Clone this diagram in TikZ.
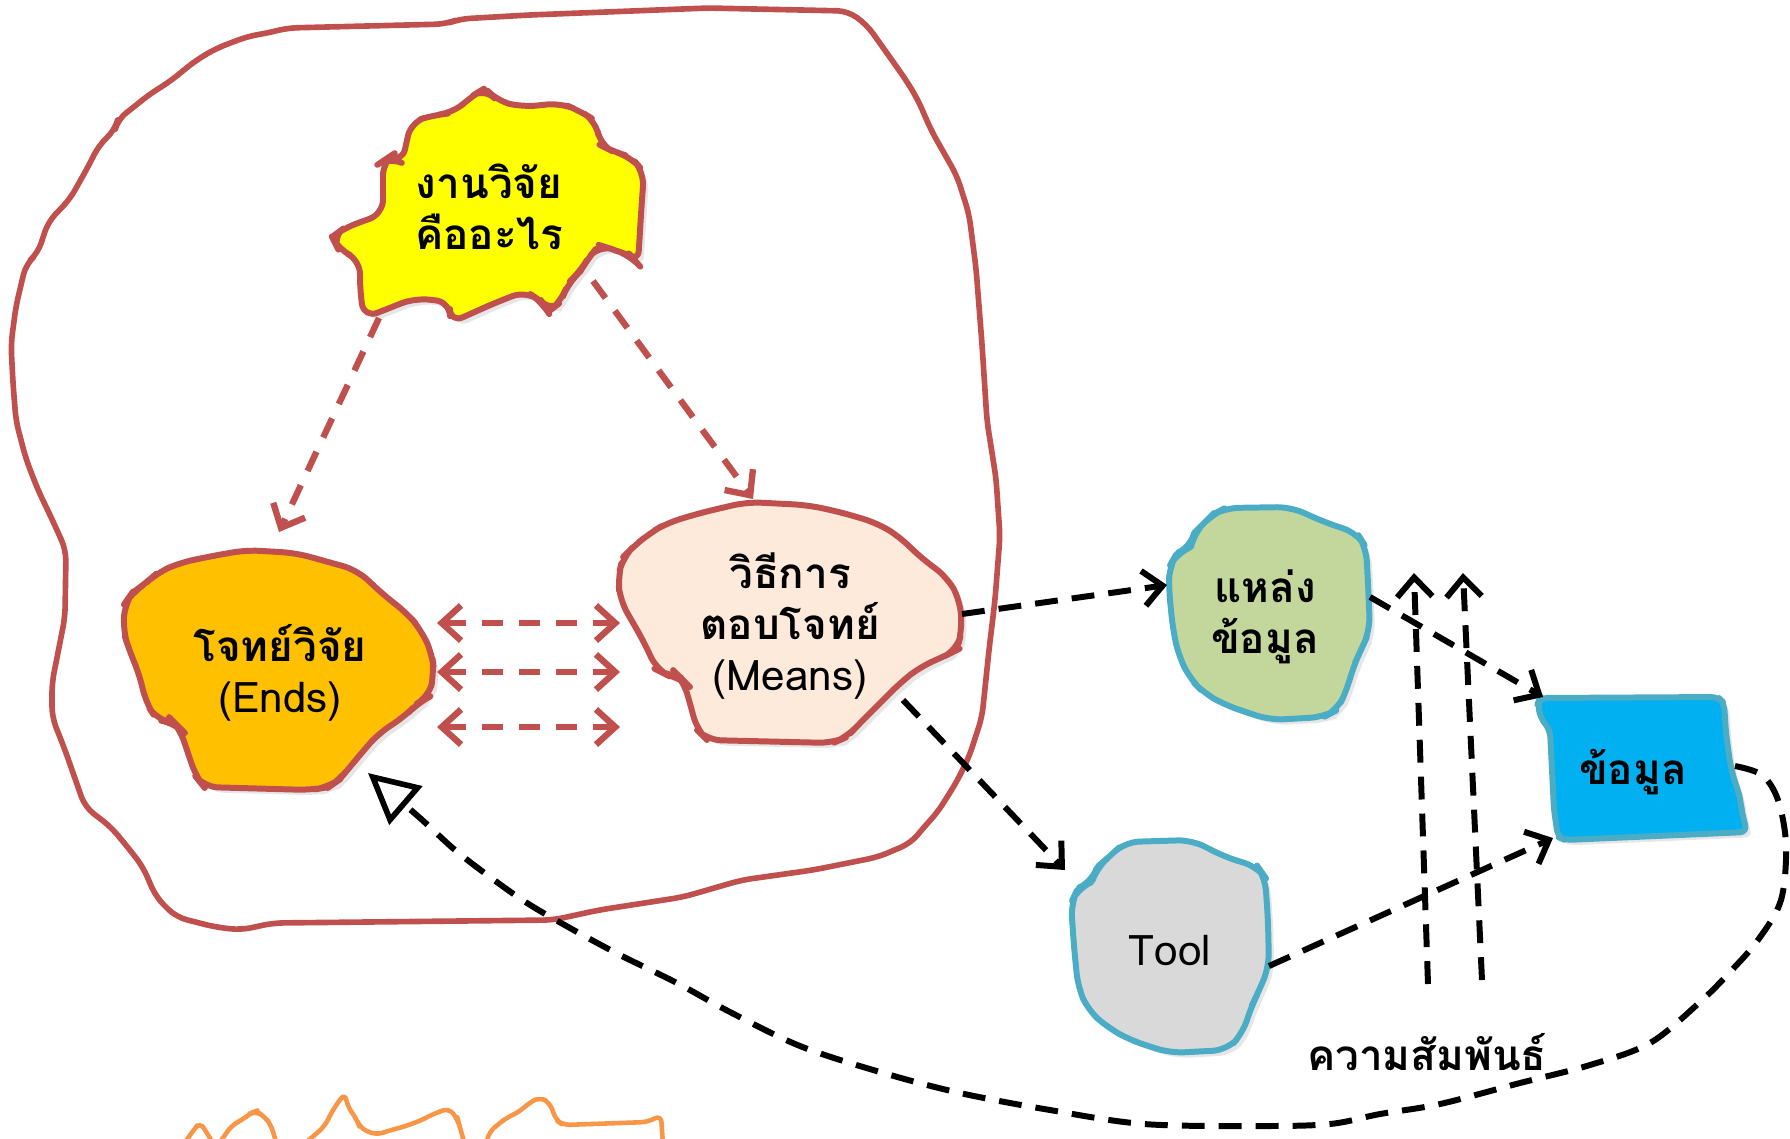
\documentclass[tikz,border=0pt]{standalone}
\usepackage{fontspec}
\newfontfamily\thaifont[Script=Thai]{Loma}
\usetikzlibrary{arrows.meta, shadows}
\definecolor{myred}{RGB}{192,80,77}
\definecolor{myyellow}{RGB}{255,255,0}
\definecolor{myorange}{RGB}{255,192,0}
\definecolor{mypeach}{RGB}{253,234,218}
\definecolor{mygreen}{RGB}{195,214,155}
\definecolor{myblue}{RGB}{0,176,240}
\definecolor{mycyan}{RGB}{75,172,198}
\definecolor{mygray}{RGB}{217,217,217}
\definecolor{lightorange}{RGB}{247,150,70}

\begin{document}
\begin{tikzpicture}[x=0.01cm, y=-0.01cm,
    blob/.style={line width=1.7pt, line join=round, rounded corners=4pt,
        drop shadow={opacity=0.2, shadow xshift=1.5pt, shadow yshift=-1.5pt}},
    lbl/.style={font=\thaifont\bfseries\fontsize{12}{14.5}\selectfont, align=center, inner sep=0pt},
    redarrow/.style={myred, line width=1.8pt, dash pattern=on 6pt off 4.5pt, -{Straight Barb[length=5.5pt,width=10pt]}},
    blkarrow/.style={black, line width=1.7pt, dash pattern=on 6.5pt off 4pt, -{Straight Barb[length=5.5pt,width=10pt]}}]
    \useasboundingbox (0,0) rectangle (1790,1138);

    % outer boundary
    \draw[myred, line width=1.6pt, line join=round, rounded corners=3pt]
        (848,11) -- (867,25) -- (906,80) -- (918,100) -- (931,130) -- (944,153) -- (957,176)
        -- (969,214) -- (976,268) -- (982,344) -- (987,421) -- (996,478) -- (1000,536)
        -- (995,600) -- (989,650) -- (982,717) -- (969,757) -- (956,783) -- (937,813)
        -- (924,827) -- (911,843) -- (878,857) -- (813,870) -- (742,880) -- (683,897)
        -- (599,910) -- (553,920) -- (273,923) -- (241,930) -- (215,927) -- (176,917)
        -- (156,897) -- (143,867) -- (130,850) -- (111,827) -- (85,807) -- (65,750)
        -- (52,717) -- (52,683) -- (65,617) -- (66,550) -- (51,517) -- (38,490)
        -- (26,459) -- (16,421) -- (13,383) -- (11,344) -- (16,306) -- (26,264)
        -- (38,253) -- (48,222) -- (70,199) -- (89,165) -- (99,145) -- (115,130)
        -- (118,119) -- (134,107) -- (147,96) -- (172,80) -- (185,69) -- (198,59)
        -- (217,48) -- (249,36) -- (268,33) -- (287,28) -- (446,24) -- (459,19)
        -- (529,15) -- (708,8) -- cycle;

    % what is research
    \draw[blob, draw=myred, fill=myyellow]
        (485,88) -- (497,101) -- (523,107) -- (561,103) -- (580,111) -- (596,121)
        -- (600,145) -- (612,151) -- (631,157) -- (644,172) -- (641,214) -- (638,264)
        -- (631,256) -- (612,249) -- (599,245) -- (587,260) -- (580,272) -- (568,283)
        -- (561,302) -- (548,312) -- (542,302) -- (526,291) -- (497,302) -- (450,323)
        -- (450,302) -- (415,298) -- (364,318) -- (360,291) -- (360,260) -- (338,249)
        -- (332,237) -- (344,228) -- (383,214) -- (383,161) -- (389,157) -- (402,163)
        -- (411,122) -- (434,115) -- (453,113) -- (472,96) -- cycle;
    \node[lbl] (question) at (489,207) {งานวิจัย\\คืออะไร};

    % ends
    \draw[blob, draw=myred, fill=myorange]
        (246,550) -- (296,553) -- (357,570) -- (386,597) -- (407,613) -- (421,630)
        -- (432,653) -- (434,673) -- (429,697) -- (418,703) -- (404,717) -- (379,733)
        -- (364,750) -- (350,767) -- (339,780) -- (329,787) -- (311,790) -- (204,787)
        -- (196,777) -- (186,747) -- (179,727) -- (175,723) -- (157,720) -- (146,703)
        -- (139,673) -- (129,650) -- (123,630) -- (125,603) -- (132,593) -- (146,583)
        -- (157,573) -- (179,563) -- (207,557) -- cycle;
    \node[lbl] (ends) at (280,673) {โจทย์วิจัย\\{\mdseries (Ends)}};

    % means
    \draw[blob, draw=myred, fill=mypeach]
        (747,502) -- (807,505) -- (840,512) -- (877,523) -- (900,537) -- (920,557)
        -- (947,577) -- (960,600) -- (962,630) -- (957,650) -- (947,655) -- (920,667)
        -- (900,683) -- (880,703) -- (860,723) -- (847,737) -- (833,743) -- (707,740)
        -- (697,730) -- (690,703) -- (683,680) -- (680,677) -- (667,675) -- (657,670)
        -- (643,640) -- (633,623) -- (620,600) -- (618,577) -- (623,557) -- (633,547)
        -- (650,533) -- (667,523) -- (700,513) -- cycle;
    \node[lbl] (means) at (790,626) {วิธีการ\\ตอบโจทย์\\{\mdseries (Means)}};

    % data source
    \draw[blob, draw=mycyan, fill=mygreen]
        (1225,508) -- (1291,507) -- (1324,522) -- (1357,533) -- (1366,547) -- (1368,583)
        -- (1370,630) -- (1361,650) -- (1353,667) -- (1347,690) -- (1337,710) -- (1324,717)
        -- (1270,720) -- (1225,705) -- (1204,693) -- (1191,680) -- (1179,657) -- (1173,630)
        -- (1169,590) -- (1169,567) -- (1177,553) -- (1191,547) -- (1194,533) -- (1204,523)
        -- (1212,515) -- cycle;
    \node[lbl] (source) at (1265,617) {แหล่ง\\ข้อมูล};

    % data
    \draw[blob, draw=mycyan, fill=myblue, rounded corners=2pt]
        (1540,698) -- (1718,697) -- (1724,703) -- (1726,733) -- (1730,763) -- (1735,783)
        -- (1739,793) -- (1743,817) -- (1747,832) -- (1565,840) -- (1558,837) -- (1554,810)
        -- (1550,730) -- (1540,717) -- (1538,703) -- cycle;
    \node[lbl] (data) at (1633,772) {ข้อมูล};

    % tool
    \draw[blob, draw=mycyan, fill=mygray]
        (1125,842) -- (1192,840) -- (1225,857) -- (1258,867) -- (1265,877) -- (1268,920)
        -- (1269,967) -- (1258,993) -- (1251,1007) -- (1243,1033) -- (1227,1050) -- (1170,1053)
        -- (1130,1040) -- (1107,1027) -- (1088,1010) -- (1078,987) -- (1074,947) -- (1071,903)
        -- (1078,888) -- (1092,882) -- (1097,867) -- (1109,857) -- cycle;
    \node[lbl, font=\thaifont\fontsize{12}{14.5}\selectfont] (tool) at (1170,950) {Tool};

    % relation
    \node[lbl] (relation) at (1427,1052) {ความสัมพันธ์};

    % cut-off outline at the bottom
    \draw[lightorange, line width=1.3pt, line join=round, rounded corners=2pt]
        (183,1145) -- (193,1131) -- (200,1122) -- (210,1138) -- (214,1145)
        (218,1145) -- (225,1135) -- (232,1125) -- (242,1120) -- (251,1113) -- (256,1111)
        -- (265,1117) -- (271,1125) -- (277,1145)
        (303,1145) -- (324,1127) -- (334,1108) -- (345,1093) -- (347,1105) -- (357,1120)
        -- (360,1128) -- (376,1135) -- (391,1130) -- (403,1127) -- (422,1120) -- (431,1115)
        -- (449,1108) -- (458,1120) -- (459,1124) -- (465,1145)
        (486,1145) -- (489,1132) -- (506,1118) -- (519,1112) -- (529,1103) -- (540,1097)
        -- (550,1103) -- (556,1120) -- (563,1125) -- (648,1122) -- (661,1115) -- (663,1145);

    % connector ends
    \coordinate (question-sw) at (379,318);
    \coordinate (question-se) at (593,281);
    \coordinate (ends-n) at (279,532);
    \coordinate (means-n) at (753,499);
    \coordinate (means-e) at (962,614);
    \coordinate (means-se) at (903,700);
    \coordinate (source-w) at (1167,585);
    \coordinate (source-e) at (1370,597);
    \coordinate (tool-n) at (1065,870);
    \coordinate (tool-e) at (1269,966);
    \coordinate (data-nw) at (1543,697);
    \coordinate (data-sw) at (1553,838);
    \coordinate (data-e) at (1735,766);
    \coordinate (ends-se) at (368,773);
    \foreach \i/\y in {1/623,2/672,3/727} {
        \coordinate (ends-e\i) at (437,\y);
        \coordinate (means-w\i) at (620,\y);
    }
    \coordinate (rel-b1) at (1428,984);
    \coordinate (rel-t1) at (1414,573);
    \coordinate (rel-b2) at (1482,980);
    \coordinate (rel-t2) at (1463,573);

    % red arrows
    \draw[redarrow] (question-sw) -- (ends-n);
    \draw[redarrow] (question-se) -- (means-n);
    \foreach \i in {1,2,3}
        \draw[redarrow, {Straight Barb[length=5.5pt,width=10pt]}-{Straight Barb[length=5.5pt,width=10pt]}] (ends-e\i) -- (means-w\i);

    % black arrows
    \draw[blkarrow] (means-e) -- (source-w);
    \draw[blkarrow] (means-se) -- (tool-n);
    \draw[blkarrow] (source-e) -- (data-nw);
    \draw[blkarrow] (tool-e) -- (data-sw);
    \draw[blkarrow] (rel-b1) -- (rel-t1);
    \draw[blkarrow] (rel-b2) -- (rel-t2);
    \draw[blkarrow, -{Triangle[fill=white, length=0.5cm, width=0.5cm, line width=1.6pt]}]
        plot[smooth, tension=0.55] coordinates {(data-e) (1762,775) (1778,800) (1786,845)
        (1781,900) (1758,940) (1730,972) (1700,1002) (1650,1043) (1590,1065) (1520,1083)
        (1440,1104) (1380,1114) (1330,1124) (1260,1126) (1144,1124) (1050,1110) (960,1093)
        (880,1072) (800,1046) (730,1012) (677,983) (620,955) (570,928) (527,903) (490,877)
        (455,850) (420,818) (ends-se)};
\end{tikzpicture}
\end{document}
